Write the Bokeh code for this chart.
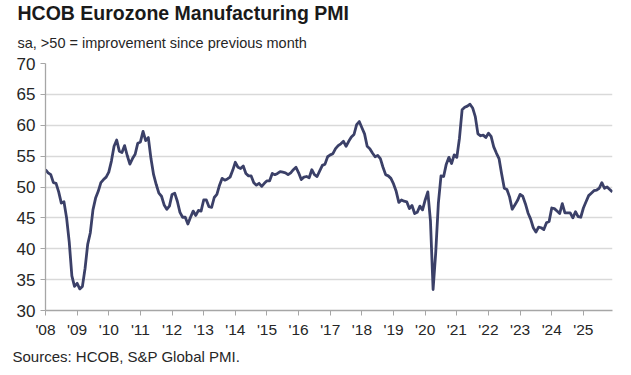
from bokeh.plotting import figure
from bokeh.models import Title, FixedTicker, Range1d
from bokeh.embed import file_html
from bokeh.resources import INLINE

start_year = 2008
pmi_2008 = [52.8, 52.3, 52.0, 50.7, 50.6, 49.2, 47.4, 47.6, 45.0, 41.1, 35.6, 33.9]
pmi_2009 = [34.4, 33.5, 33.9, 36.8, 40.7, 42.6, 46.3, 48.2, 49.3, 50.7, 51.2, 51.6]
pmi_2010 = [52.4, 54.2, 56.6, 57.6, 55.8, 55.6, 56.7, 55.1, 53.7, 54.6, 55.3, 57.1]
pmi_2011 = [57.3, 59.0, 57.5, 58.0, 54.6, 52.0, 50.4, 49.0, 48.5, 47.1, 46.4, 46.9]
pmi_2012 = [48.8, 49.0, 47.7, 45.9, 45.1, 45.1, 44.0, 45.1, 46.1, 45.4, 46.2, 46.1]
pmi_2013 = [47.9, 47.9, 46.8, 46.7, 48.3, 48.8, 50.3, 51.4, 51.1, 51.3, 51.6, 52.7]
pmi_2014 = [54.0, 53.2, 53.0, 53.4, 52.2, 51.8, 51.8, 50.7, 50.3, 50.6, 50.1, 50.6]
pmi_2015 = [51.0, 51.0, 52.2, 52.0, 52.2, 52.5, 52.4, 52.3, 52.0, 52.3, 52.8, 53.2]
pmi_2016 = [52.3, 51.2, 51.6, 51.7, 51.5, 52.8, 52.0, 51.7, 52.6, 53.5, 53.7, 54.9]
pmi_2017 = [55.2, 55.4, 56.2, 56.7, 57.0, 57.4, 56.6, 57.4, 58.1, 58.5, 60.1, 60.6]
pmi_2018 = [59.6, 58.6, 56.6, 56.2, 55.5, 54.9, 55.1, 54.6, 53.2, 52.0, 51.8, 51.4]
pmi_2019 = [50.5, 49.3, 47.5, 47.9, 47.7, 47.6, 46.5, 47.0, 45.7, 45.9, 46.9, 46.3]
pmi_2020 = [47.9, 49.2, 44.5, 33.4, 39.4, 47.4, 51.8, 51.7, 53.7, 54.8, 53.8, 55.2]
pmi_2021 = [54.8, 57.9, 62.5, 62.9, 63.1, 63.4, 62.8, 61.4, 58.6, 58.3, 58.4, 58.0]
pmi_2022 = [58.7, 58.2, 56.5, 55.5, 54.6, 52.1, 49.8, 49.6, 48.4, 46.4, 47.1, 47.8]
pmi_2023 = [48.8, 48.5, 47.3, 45.8, 44.8, 43.4, 42.7, 43.5, 43.4, 43.1, 44.2, 44.4]
pmi_2024 = [46.6, 46.5, 46.1, 45.7, 47.3, 45.8, 45.8, 45.8, 45.0, 46.0, 45.2, 45.1]
pmi_2025 = [46.6, 47.6, 48.6, 49.0, 49.4, 49.5, 49.8, 50.7, 49.8, 50.0, 49.6, 49.2]

pmi = (pmi_2008 + pmi_2009 + pmi_2010 + pmi_2011 + pmi_2012 + pmi_2013 + pmi_2014
       + pmi_2015 + pmi_2016 + pmi_2017 + pmi_2018 + pmi_2019 + pmi_2020 + pmi_2021
       + pmi_2022 + pmi_2023 + pmi_2024 + pmi_2025)
months = [start_year + i / 12 for i in range(len(pmi))]

year_ticks = list(range(2008, 2026))
year_labels = {y: "'" + str(y)[2:] for y in year_ticks}
y_ticks = [30, 35, 40, 45, 50, 55, 60, 65, 70]

title_text = "HCOB Eurozone Manufacturing PMI"
subtitle_text = "sa, >50 = improvement since previous month"
source_text = "Sources: HCOB, S&P Global PMI."

FONT = "Liberation Sans"

main_title = Title(text=title_text, align="left", offset=-28, standoff=-8,
                   text_font=FONT, text_font_size="19.5px", text_font_style="bold",
                   text_color="#1a1a1a")

p = figure(width=631, height=375, output_backend="svg", toolbar_location=None,
           x_range=Range1d(2008, 2025.92), y_range=Range1d(30, 70),
           title=main_title,
           min_border_left=45, min_border_right=19, min_border_top=63, min_border_bottom=65)
p.outline_line_color = None
p.background_fill_color = "white"
p.border_fill_color = "white"

p.add_layout(Title(text=subtitle_text, align="left", offset=-28, standoff=26,
                   text_font=FONT, text_font_size="14.5px", text_font_style="normal",
                   text_color="#262626"), "above")
p.add_layout(Title(text=source_text, align="left", offset=-33, standoff=10,
                   text_font=FONT, text_font_size="15px", text_font_style="normal",
                   text_color="#262626"), "below")

p.line(months, pmi, line_color="#3b4068", line_width=2.8, line_join="round")

p.xaxis.ticker = FixedTicker(ticks=year_ticks)
p.xaxis.major_label_overrides = year_labels
p.yaxis.ticker = FixedTicker(ticks=y_ticks)
p.xgrid.grid_line_color = None
p.ygrid.grid_line_color = "#d9d9d9"
p.ygrid.grid_line_width = 1.3

for ax in (p.xaxis[0], p.yaxis[0]):
    ax.axis_line_color = "#a6a6a6"
    ax.axis_line_width = 1.3
    ax.major_tick_line_color = "#a6a6a6"
    ax.major_tick_out = 5
    ax.major_tick_in = 0
    ax.minor_tick_line_color = None
    ax.major_label_text_font = FONT
    ax.major_label_text_color = "#262626"
p.xaxis.major_label_text_font_size = "15.5px"
p.yaxis.major_label_text_font_size = "17px"
p.xaxis.major_label_standoff = 5
p.yaxis.major_label_standoff = 5

open("out.html", "w").write(file_html(p, INLINE))
